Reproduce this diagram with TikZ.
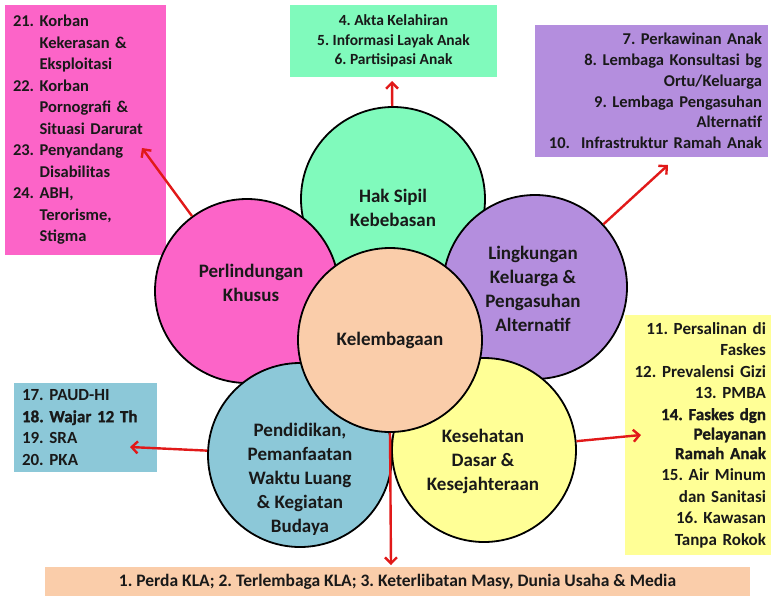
\documentclass[tikz,border=0pt]{standalone}
\usepackage{fontspec}
\setmainfont{Carlito}
\usetikzlibrary{arrows.meta}
\definecolor{pinkc}{RGB}{252,100,200}
\definecolor{mintc}{RGB}{128,250,188}
\definecolor{lilac}{RGB}{180,142,222}
\definecolor{skyc}{RGB}{140,200,216}
\definecolor{lemon}{RGB}{255,255,150}
\definecolor{peach}{RGB}{250,205,170}
\definecolor{arrowred}{RGB}{225,25,25}
\newcommand{\xbold}{\addfontfeature{FakeBold=1.2}}
\frenchspacing

\begin{document}
\begin{tikzpicture}[x=1pt,y=-1pt,
    petal/.style={draw, circle, line width=1.8pt, minimum size=184pt, inner sep=0pt},
    petaltext/.style={font=\bfseries\fontsize{19}{24}\selectfont, align=center, text=black!90},
    listbox/.style={font=\bfseries\fontsize{17}{21.5}\selectfont, text=black!90, inner ysep=0pt},
    link/.style={draw=arrowred, line width=2.4pt, -{Straight Barb[length=6pt,width=12pt]}}]
    \useasboundingbox (0,0) rectangle (771,595);

    % boxes
    \node[listbox, fill=pinkc, inner xsep=8pt, text width=145pt, minimum height=250pt, align=left, font=\bfseries\fontsize{16.5}{21.5}\selectfont] (khususbox) at (85.5,130) {%
        \begin{tabular}{@{}l@{ }l@{}}
        21.&Korban\\
           &Kekerasan \&\\
           &Eksploitasi\\
        22.&Korban\\
           &Pornografi \&\\
           &Situasi Darurat\\
        23.&Penyandang\\
           &Disabilitas\\
        24.&ABH,\\
           &Terorisme,\\
           &Stigma
        \end{tabular}};
    \node[listbox, fill=mintc, minimum width=207pt, minimum height=72pt, align=center, font=\bfseries\fontsize{15.5}{19.5}\selectfont] (sipilbox) at (393.5,41) {4. Akta Kelahiran\\5. Informasi Layak Anak\\6. Partisipasi Anak};
    \node[listbox, fill=lilac, inner xsep=6pt, text width=221pt, minimum height=132pt, align=right, font=\bfseries\fontsize{16.5}{20.8}\selectfont] (keluargabox) at (651.5,91) {7. Perkawinan Anak\\8. Lembaga Konsultasi bg\\Ortu/Keluarga\\9. Lembaga Pengasuhan\\Alternatif\\10.~ Infrastruktur Ramah Anak};
    \node[listbox, fill=skyc, inner xsep=8pt, text width=127pt, minimum height=89pt, align=left] (didikbox) at (85.5,427.5) {17. PAUD-HI\\{\xbold 18. Wajar 12 Th}\\19. SRA\\20. PKA};
    \node[listbox, fill=lemon, inner xsep=5pt, text width=136pt, minimum height=240pt, align=right] (sehatbox) at (698,435) {11. Persalinan di\\Faskes\\12. Prevalensi Gizi\\13. PMBA\\{\xbold 14. Faskes dgn\\[-2pt]Pelayanan\\[-2pt]Ramah Anak}\\15. Air Minum\\dan Sanitasi\\16. Kawasan\\Tanpa Rokok};
    \node[listbox, fill=peach, minimum width=705pt, minimum height=30pt, font=\bfseries\fontsize{17.5}{21}\selectfont] (lembagabox) at (397.5,582) {1. Perda KLA; 2. Terlembaga KLA; 3. Keterlibatan Masy, Dunia Usaha \& Media};

    % petals
    \node[petal, fill=mintc] (hak) at (393,199) {};
    \node[petal, fill=pinkc] (lindung) at (247,291) {};
    \node[petal, fill=lilac] (lingkungan) at (535,287) {};
    \node[petal, fill=skyc] (didik) at (300,455) {};
    \node[petal, fill=lemon] (sehat) at (484,450) {};
    \node[petal, fill=peach] (lembaga) at (390,340) {};

    \node[petaltext] (hak-t) at (393,208) {Hak Sipil\\Kebebasan};
    \node[petaltext] (lindung-t) at (251,283) {Perlindungan\\Khusus};
    \node[petaltext] (lingkungan-t) at (533,289) {Lingkungan\\Keluarga \&\\Pengasuhan\\Alternatif};
    \node[petaltext] (didik-t) at (300,479) {Pendidikan,\\Pemanfaatan\\Waktu Luang\\\& Kegiatan\\Budaya};
    \node[petaltext] (sehat-t) at (483,461) {Kesehatan\\Dasar \&\\Kesejahteraan};
    \node[petaltext] (lembaga-t) at (390,340) {Kelembagaan};

    % arrow tips
    \coordinate (sipiltip) at (392,81);
    \coordinate (khusustip) at (142,148);
    \coordinate (keluargatip) at (668,165);
    \coordinate (didiktip) at (130,447);
    \coordinate (sehattip) at (641,435);
    \coordinate (lembagatip) at (391,565);

    \path[link] (hak) -- (sipiltip);
    \path[link] (lindung) -- (khusustip);
    \path[link] (lingkungan) -- (keluargatip);
    \path[link] (didik) -- (didiktip);
    \path[link] (sehat) -- (sehattip);
    \path[link] (lembaga.south) -- (lembagatip);
\end{tikzpicture}
\end{document}
